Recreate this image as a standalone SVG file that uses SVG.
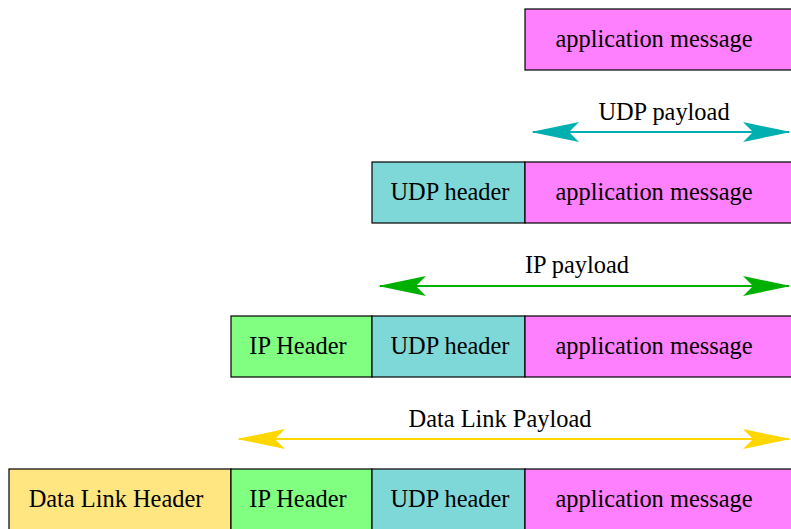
<svg xmlns="http://www.w3.org/2000/svg" width="791" height="529" viewBox="0 0 791 529">
<defs>
<style>
.b{stroke:#000;stroke-width:1.2}
.app{fill:#ff80ff}.udp{fill:#7fd8d8}.ip{fill:#80ff80}.dl{fill:#ffe680}
text{font-family:"Liberation Serif","Times New Roman",serif;font-size:24.4px;fill:#000;text-anchor:middle}
.c{stroke-width:2;fill:none}
</style>
</defs>
<rect width="791" height="529" fill="#fff"/>
<g id="connectors">
<line class="c" x1="533" y1="132" x2="789" y2="132" stroke="#00b0b0"/>
<path d="M531,132 L579,122 L569,132 L579,142 Z M791,132 L743,122 L753,132 L743,142 Z" fill="#00b0b0"/>
<line class="c" x1="380" y1="286" x2="789" y2="286" stroke="#00b000"/>
<path d="M378,286 L426,276 L416,286 L426,296 Z M791,286 L743,276 L753,286 L743,296 Z" fill="#00b000"/>
<line class="c" x1="239" y1="439" x2="789" y2="439" stroke="#ffd700"/>
<path d="M237,439 L285,429 L275,439 L285,449 Z M791,439 L743,429 L753,439 L743,449 Z" fill="#ffd700"/>
</g>
<g id="label-udp-payload"><text x="664" y="120">UDP payload</text></g>
<g id="label-ip-payload"><text x="577" y="273">IP payload</text></g>
<g id="label-dl-payload"><text x="500" y="427">Data Link Payload</text></g>
<g id="row1-app"><rect class="b app" x="525" y="9" width="268" height="61"/><text x="654" y="47">application message</text></g>
<g id="row2-udp"><rect class="b udp" x="372" y="162" width="153" height="61"/><text x="450" y="200">UDP header</text></g>
<g id="row2-app"><rect class="b app" x="525" y="162" width="268" height="61"/><text x="654" y="200">application message</text></g>
<g id="row3-ip"><rect class="b ip" x="231" y="316" width="141" height="61"/><text x="298" y="354">IP Header</text></g>
<g id="row3-udp"><rect class="b udp" x="372" y="316" width="153" height="61"/><text x="450" y="354">UDP header</text></g>
<g id="row3-app"><rect class="b app" x="525" y="316" width="268" height="61"/><text x="654" y="354">application message</text></g>
<g id="row4-dl"><rect class="b dl" x="9" y="469" width="222" height="62"/><text x="116" y="507">Data Link Header</text></g>
<g id="row4-ip"><rect class="b ip" x="231" y="469" width="141" height="62"/><text x="298" y="507">IP Header</text></g>
<g id="row4-udp"><rect class="b udp" x="372" y="469" width="153" height="62"/><text x="450" y="507">UDP header</text></g>
<g id="row4-app"><rect class="b app" x="525" y="469" width="268" height="62"/><text x="654" y="507">application message</text></g>
</svg>
